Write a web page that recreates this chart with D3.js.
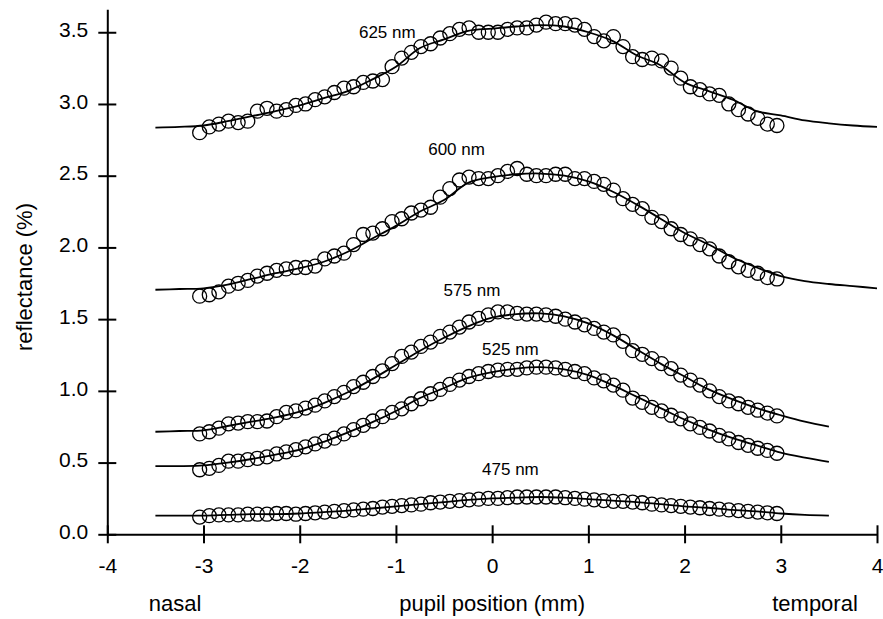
<!DOCTYPE html>
<html>
<head>
<meta charset="utf-8">
<script src="https://cdn.jsdelivr.net/npm/d3@7"></script>
<style>
  html, body { margin: 0; padding: 0; background: #fff; }
  svg { display: block; font-family: "Liberation Sans", Arial, Helvetica, sans-serif; }
</style>
</head>
<body>
<svg id="chart" width="883" height="619"></svg>
<script>
// Pupil positions (mm) of the measured reflectance samples
const positions = [-3.04,-2.94,-2.84,-2.74,-2.64,-2.54,-2.44,-2.34,-2.24,-2.14,
  -2.04,-1.94,-1.84,-1.74,-1.64,-1.54,-1.44,-1.34,-1.24,-1.14,
  -1.04,-0.94,-0.84,-0.74,-0.64,-0.54,-0.44,-0.34,-0.24,-0.14,
  -0.04,0.06,0.16,0.26,0.36,0.46,0.56,0.66,0.76,0.86,
  0.96,1.06,1.16,1.26,1.36,1.46,1.56,1.66,1.76,1.86,
  1.96,2.06,2.16,2.26,2.36,2.46,2.56,2.66,2.76,2.86,2.96];

// Measured reflectance (%) per wavelength
const r625 = [2.80,2.84,2.86,2.88,2.87,2.88,2.95,2.97,2.95,2.96,
  2.99,3.00,3.03,3.05,3.08,3.11,3.12,3.15,3.16,3.17,
  3.26,3.32,3.36,3.40,3.42,3.46,3.49,3.52,3.53,3.50,
  3.50,3.50,3.52,3.53,3.53,3.55,3.57,3.56,3.56,3.55,
  3.52,3.47,3.44,3.47,3.40,3.33,3.31,3.32,3.30,3.25,
  3.18,3.12,3.10,3.07,3.06,3.00,2.96,2.93,2.90,2.86,2.85];
const r600 = [1.66,1.67,1.69,1.73,1.75,1.77,1.80,1.82,1.84,1.85,
  1.86,1.86,1.87,1.92,1.94,1.96,2.02,2.09,2.10,2.13,
  2.18,2.20,2.24,2.26,2.28,2.35,2.41,2.47,2.49,2.48,
  2.48,2.50,2.53,2.55,2.51,2.50,2.50,2.51,2.51,2.48,
  2.48,2.46,2.44,2.40,2.34,2.30,2.27,2.21,2.18,2.13,
  2.09,2.06,2.02,1.99,1.94,1.90,1.865,1.84,1.82,1.79,1.78];
const r575 = [0.70,0.715,0.74,0.77,0.775,0.785,0.785,0.79,0.82,0.85,
  0.86,0.88,0.90,0.93,0.96,0.99,1.03,1.06,1.10,1.14,
  1.19,1.24,1.27,1.31,1.34,1.38,1.41,1.445,1.48,1.505,
  1.53,1.55,1.55,1.54,1.535,1.535,1.53,1.52,1.50,1.48,
  1.46,1.435,1.41,1.39,1.345,1.28,1.255,1.225,1.19,1.155,
  1.11,1.075,1.04,1.00,0.96,0.93,0.91,0.885,0.865,0.845,0.825];
const r525 = [0.45,0.46,0.48,0.51,0.51,0.52,0.53,0.54,0.56,0.575,
  0.59,0.61,0.63,0.65,0.67,0.70,0.73,0.76,0.79,0.82,
  0.85,0.875,0.91,0.945,0.98,1.01,1.045,1.075,1.10,1.12,
  1.135,1.145,1.15,1.15,1.16,1.165,1.165,1.16,1.15,1.135,
  1.12,1.09,1.07,1.04,1.005,0.95,0.92,0.885,0.86,0.83,
  0.805,0.77,0.745,0.72,0.69,0.665,0.64,0.62,0.60,0.585,0.565];
const r475 = [0.12,0.13,0.135,0.135,0.135,0.14,0.14,0.14,0.145,0.145,
  0.14,0.145,0.15,0.155,0.16,0.165,0.17,0.175,0.18,0.19,
  0.195,0.20,0.205,0.21,0.22,0.225,0.23,0.235,0.24,0.245,
  0.25,0.25,0.255,0.26,0.26,0.26,0.26,0.26,0.255,0.25,
  0.245,0.24,0.235,0.23,0.23,0.225,0.22,0.21,0.205,0.20,
  0.195,0.19,0.185,0.18,0.175,0.17,0.165,0.16,0.155,0.15,0.145];

// Model fit curves, sampled every 0.25 mm
const fitXLong = [-3.5,-3.25,-3,-2.75,-2.5,-2.25,-2,-1.75,-1.5,-1.25,-1,-0.75,-0.5,-0.25,0,
  0.25,0.5,0.75,1,1.25,1.5,1.75,2,2.25,2.5,2.75,3,3.25,3.5,3.75,4];
const fitXShort = [-3.5,-3.25,-3,-2.75,-2.5,-2.25,-2,-1.75,-1.5,-1.25,-1,-0.75,-0.5,-0.25,0,
  0.25,0.5,0.75,1,1.25,1.5,1.75,2,2.25,2.5,2.75,3,3.25,3.5];
const fit625 = [2.835,2.84,2.85,2.88,2.915,2.95,2.99,3.04,3.09,3.17,3.26,3.39,3.45,3.51,3.525,
  3.54,3.55,3.54,3.50,3.44,3.34,3.27,3.15,3.09,3.03,2.95,2.92,2.885,2.865,2.85,2.84];
const fit600 = [1.705,1.71,1.715,1.74,1.78,1.82,1.855,1.90,1.97,2.06,2.15,2.25,2.33,2.45,2.49,
  2.51,2.515,2.50,2.46,2.39,2.30,2.20,2.10,2.02,1.93,1.86,1.80,1.765,1.745,1.73,1.715];
const fit575 = [0.715,0.72,0.725,0.755,0.785,0.815,0.855,0.915,0.99,1.08,1.18,1.28,1.37,1.45,1.51,
  1.535,1.54,1.52,1.47,1.39,1.29,1.19,1.10,1.01,0.94,0.88,0.83,0.785,0.75];
const fit525 = [0.475,0.475,0.48,0.50,0.525,0.555,0.59,0.645,0.71,0.78,0.86,0.95,1.02,1.09,1.13,
  1.155,1.165,1.15,1.11,1.04,0.96,0.88,0.80,0.73,0.67,0.62,0.57,0.535,0.505];
const fit475 = [0.13,0.13,0.13,0.135,0.14,0.14,0.145,0.155,0.165,0.18,0.195,0.21,0.225,0.24,0.25,
  0.255,0.26,0.255,0.245,0.235,0.225,0.21,0.195,0.185,0.17,0.16,0.145,0.135,0.13];

const xTicks = [-4,-3,-2,-1,0,1,2,3,4];
const yTicks = [0,0.5,1,1.5,2,2.5,3,3.5];

// Series label anchor points (pupil position, reflectance)
const series = [
  { name: "625 nm", values: r625, fitX: fitXLong,  fitY: fit625, label: [-1.09, 3.46] },
  { name: "600 nm", values: r600, fitX: fitXLong,  fitY: fit600, label: [-0.37, 2.645] },
  { name: "575 nm", values: r575, fitX: fitXShort, fitY: fit575, label: [-0.21, 1.66] },
  { name: "525 nm", values: r525, fitX: fitXShort, fitY: fit525, label: [0.19, 1.25] },
  { name: "475 nm", values: r475, fitX: fitXShort, fitY: fit475, label: [0.19, 0.413] }
];

const svg = d3.select("#chart");
const x = d3.scaleLinear().domain([-4, 4]).range([107.3, 877]);
const y = d3.scaleLinear().domain([0, 3.66]).range([534.3, 9.3]);

const TICK = 9;

// y axis with ticks crossing the axis line
const gy = svg.append("g")
  .attr("transform", `translate(${x(-4)},0)`)
  .call(d3.axisLeft(y).tickValues(yTicks).tickFormat(d3.format(".1f"))
    .tickSize(0).tickPadding(19));
gy.selectAll(".tick").append("line")
  .attr("x1", -TICK).attr("x2", TICK).attr("stroke", "#000").attr("stroke-width", 2);
gy.selectAll(".tick text").attr("y", -2.5);

// x axis with crossing ticks (plain hyphen for negatives)
const gx = svg.append("g")
  .attr("transform", `translate(0,${y(0)})`)
  .call(d3.axisBottom(x).tickValues(xTicks).tickFormat(d => String(d))
    .tickSize(0).tickPadding(24));
gx.selectAll(".tick").append("line")
  .attr("y1", -TICK).attr("y2", TICK).attr("stroke", "#000").attr("stroke-width", 2);

[gx, gy].forEach(g => {
  g.select(".domain").attr("stroke", "#000").attr("stroke-width", 2);
  g.selectAll(".tick text").attr("fill", "#000").attr("font-size", 21)
    .attr("font-family", "Liberation Sans, Arial, sans-serif");
});

// Fitted curves and measured points
const line = d3.line().x(d => x(d[0])).y(d => y(d[1])).curve(d3.curveCatmullRom.alpha(0.5));
const plot = svg.append("g");
series.forEach(s => {
  plot.append("path")
    .datum(s.fitX.map((v, i) => [v, s.fitY[i]]))
    .attr("d", line)
    .attr("fill", "none").attr("stroke", "#000").attr("stroke-width", 1.8);
  plot.append("g").selectAll("circle")
    .data(s.values.map((v, i) => [positions[i], v]))
    .join("circle")
    .attr("cx", d => x(d[0])).attr("cy", d => y(d[1])).attr("r", 7)
    .attr("fill", "none").attr("stroke", "#000").attr("stroke-width", 1.3);
  plot.append("text")
    .attr("x", x(s.label[0])).attr("y", y(s.label[1]))
    .attr("text-anchor", "middle").attr("font-size", 17).attr("fill", "#000")
    .text(s.name);
});

// Axis titles
svg.append("text")
  .attr("transform", `translate(32,277) rotate(-90)`)
  .attr("text-anchor", "middle").attr("font-size", 22).text("reflectance (%)");
svg.append("text").attr("x", x(0)).attr("y", 611)
  .attr("text-anchor", "middle").attr("font-size", 22).text("pupil position (mm)");
svg.append("text").attr("x", 175).attr("y", 611)
  .attr("text-anchor", "middle").attr("font-size", 22).text("nasal");
svg.append("text").attr("x", 815).attr("y", 611)
  .attr("text-anchor", "middle").attr("font-size", 22).text("temporal");
</script>
</body>
</html>
